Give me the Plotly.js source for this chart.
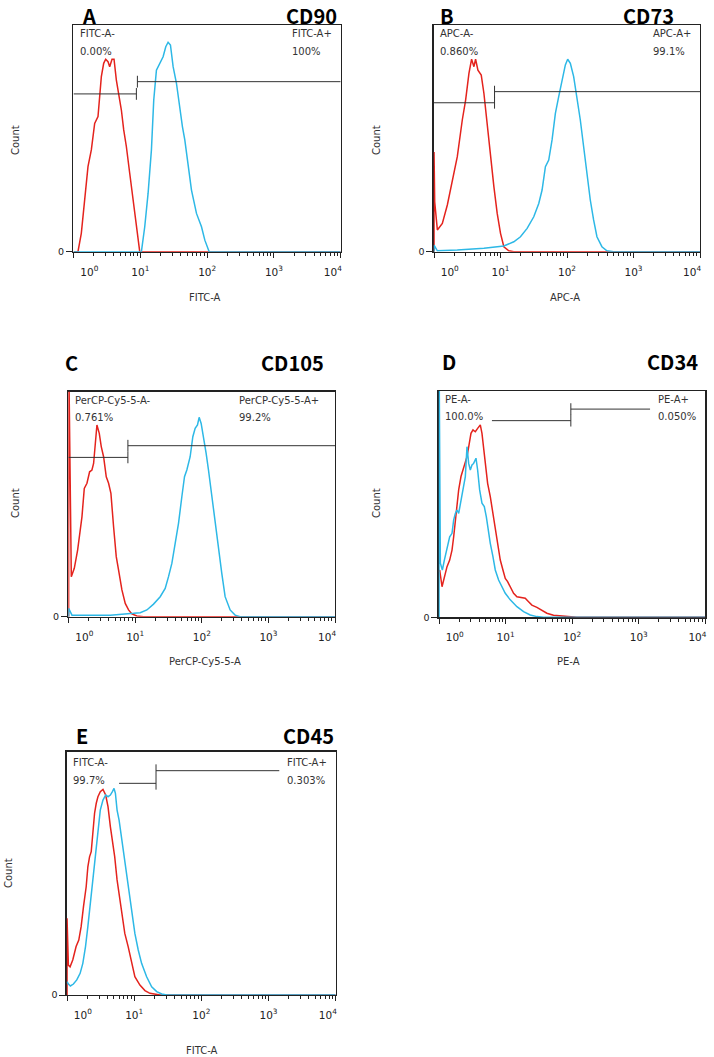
<!DOCTYPE html>
<html>
<head>
<meta charset="utf-8">
<script src="https://cdn.plot.ly/plotly-3.0.1.min.js"></script>
<style>
  html, body { margin: 0; padding: 0; background: #fff; }
  #chart { width: 714px; height: 1057px; }
</style>
</head>
<body>
<div id="chart"></div>
<script>
// histogram outlines: x = log10(fluorescence), y = relative count (0-100)
// red = isotype control, blue = stained sample

// A  CD90 / FITC-A
const aRedLog = [0, 0.065, 0.115, 0.165, 0.215, 0.265, 0.315, 0.365, 0.39, 0.415, 0.45, 0.48, 0.515, 0.54, 0.575, 0.605, 0.64, 0.675, 0.715, 0.75, 0.79, 0.84, 0.89, 0.94, 0.99, 4];
const aRedCount = [0, 0, 8.1, 22.8, 37.5, 44.9, 56.6, 59.6, 66.9, 77.2, 83.1, 84.9, 83.8, 81.6, 84.9, 84.9, 75.7, 69.9, 62.5, 53.7, 46.3, 34.6, 22.8, 11, 0, 0];
const aBlueLog = [0, 1.015, 1.065, 1.115, 1.165, 1.2, 1.24, 1.28, 1.34, 1.38, 1.415, 1.45, 1.49, 1.54, 1.59, 1.63, 1.665, 1.715, 1.765, 1.84, 1.915, 1.965, 2.03, 4];
const aBlueCount = [0, 0, 11, 25.7, 44.9, 66.9, 80.1, 82.4, 86, 90.4, 92.4, 91.2, 81.6, 74.3, 62.5, 55.1, 49.3, 37.5, 27.2, 16.9, 11, 5.1, 0, 0];
const aGateLog = [0, 0.94, 0.955, 4];
const aGateLevel = [69.6, 75];

// B  CD73 / APC-A
const bRedLog = [0, 0, 0.01, 0.05, 0.125, 0.2, 0.275, 0.35, 0.425, 0.475, 0.525, 0.565, 0.6, 0.625, 0.66, 0.71, 0.75, 0.8, 0.85, 0.9, 0.95, 1.0, 1.05, 1.125, 1.2, 4];
const bRedCount = [0, 44, 22, 9.6, 12.5, 20.6, 30.9, 41.9, 58.1, 66.9, 78.7, 84.9, 81.6, 84.9, 80.1, 77.9, 69.9, 55.1, 41.9, 28.7, 16.9, 8.1, 2.2, 0.4, 0, 0];
const bBlueLog = [0, 0, 0.05, 0.35, 0.75, 1.05, 1.2, 1.3, 1.4, 1.5, 1.575, 1.625, 1.675, 1.725, 1.775, 1.825, 1.875, 1.925, 1.975, 2.01, 2.05, 2.1, 2.15, 2.2, 2.25, 2.3, 2.35, 2.4, 2.45, 2.525, 2.6, 2.7, 4];
const bBlueCount = [0, 2.9, 0.4, 0.7, 1.5, 2.5, 4.4, 6.6, 10.3, 15.4, 21.3, 27.2, 37.5, 40.4, 49.3, 61, 68.4, 75.7, 82.4, 84.9, 83.1, 77.2, 68.4, 58.1, 46.3, 33.1, 22.8, 14, 6.6, 2.2, 0.4, 0, 0];
const bGateLog = [0, 0.91, 0.91, 4];
const bGateLevel = [65.7, 70.6];

// C  CD105 / PerCP-Cy5-5-A
const cRedLog = [0, 0, 0.04, 0.085, 0.135, 0.2, 0.235, 0.275, 0.315, 0.35, 0.375, 0.4, 0.425, 0.46, 0.49, 0.525, 0.565, 0.6, 0.635, 0.675, 0.715, 0.75, 0.8, 0.85, 0.9, 0.95, 1.025, 1.125, 4];
const cRedCount = [0, 120, 17.8, 21.5, 29.6, 44.4, 57, 59.3, 64.4, 65.2, 68.1, 78.5, 85.2, 81.5, 75.6, 71.1, 62.2, 59.3, 54.8, 40, 26.7, 20.7, 11.9, 5.9, 3, 1.2, 0.3, 0, 0];
const cBlueLog = [0, 0, 0.05, 0.625, 0.975, 1.075, 1.175, 1.275, 1.375, 1.45, 1.5, 1.55, 1.6, 1.65, 1.7, 1.74, 1.775, 1.825, 1.865, 1.9, 1.935, 1.96, 1.99, 2.025, 2.065, 2.1, 2.15, 2.2, 2.25, 2.3, 2.35, 2.425, 2.5, 2.575, 4];
const cBlueCount = [0, 3.7, 0.7, 0.7, 1.5, 1.8, 3, 5.6, 8.9, 12.6, 17.8, 23.7, 32.6, 41.5, 53.3, 62.2, 65.2, 71.1, 80, 83.7, 85.2, 88.6, 85.9, 80, 72.6, 65.2, 53.3, 41.5, 29.6, 19.3, 8.9, 3, 0.7, 0, 0];
const cGateLog = [0, 0.89, 0.89, 4];
const cGateLevel = [70.8, 76];

// D  CD34 / PE-A
const dRedLog = [0, 0.01, 0.045, 0.08, 0.12, 0.16, 0.195, 0.22, 0.245, 0.27, 0.295, 0.33, 0.36, 0.395, 0.42, 0.45, 0.48, 0.51, 0.545, 0.58, 0.62, 0.645, 0.67, 0.695, 0.73, 0.77, 0.81, 0.845, 0.88, 0.92, 0.96, 0.995, 1.03, 1.07, 1.12, 1.17, 1.245, 1.295, 1.345, 1.395, 1.47, 1.545, 1.62, 1.72, 1.87, 2.0, 2.07, 4];
const dRedCount = [20, 20.9, 13.5, 17.2, 22.4, 25.3, 29.7, 35.6, 43, 50.4, 56.3, 62.2, 65.1, 68, 71, 76.1, 81.3, 82.8, 82, 83.5, 85, 81.3, 73.9, 66.6, 59.2, 53.3, 46, 38.6, 31.2, 25.3, 20.9, 17.2, 15.8, 13.5, 10.6, 9.1, 8.8, 8.4, 6.9, 5.4, 4.4, 3.2, 1.8, 0.9, 0.6, 0.3, 0, 0];
const dBlueLog = [0, 0, 0.02, 0.05, 0.08, 0.12, 0.16, 0.195, 0.22, 0.245, 0.27, 0.295, 0.32, 0.36, 0.395, 0.42, 0.445, 0.47, 0.495, 0.52, 0.555, 0.58, 0.61, 0.645, 0.68, 0.71, 0.745, 0.77, 0.81, 0.845, 0.895, 0.945, 0.995, 1.07, 1.17, 1.27, 1.37, 1.47, 1.57, 4];
const dBlueCount = [0, 120, 23.9, 20.9, 25.3, 31.2, 35.6, 37.1, 43, 45.9, 47.4, 45.9, 50.4, 57.7, 62.2, 75.4, 68, 65.1, 67.3, 68, 70.3, 65.1, 56.3, 50.4, 48.9, 44.5, 37.1, 32.7, 26.8, 20.9, 16.5, 13.5, 10.6, 7.7, 4.7, 2.5, 1, 0.3, 0, 0];
const dGateLog = [0.795, 1.98, 1.98, 3.17];
const dGateLevel = [86.9, 92];

// E  CD45 / FITC-A
const eRedLog = [0, 0, 0.02, 0.045, 0.085, 0.135, 0.175, 0.21, 0.245, 0.285, 0.31, 0.335, 0.36, 0.385, 0.41, 0.435, 0.46, 0.495, 0.535, 0.575, 0.61, 0.645, 0.675, 0.71, 0.745, 0.785, 0.825, 0.86, 0.91, 0.96, 1.01, 1.085, 1.16, 1.235, 1.31, 1.385, 4];
const eRedCount = [0, 31.5, 12.3, 11.6, 14.4, 19.9, 22.6, 28.1, 36.3, 44.5, 52.7, 56.8, 58.9, 66.4, 74.7, 78.8, 81.5, 83.6, 84.5, 82.2, 77.4, 69.2, 63.7, 56.8, 47.3, 39, 30.8, 25.3, 19.9, 13, 7.5, 4.1, 1.8, 0.7, 0.3, 0, 0];
const eBlueLog = [0, 0.02, 0.05, 0.095, 0.145, 0.195, 0.235, 0.275, 0.31, 0.345, 0.385, 0.425, 0.46, 0.495, 0.535, 0.575, 0.61, 0.645, 0.675, 0.7, 0.72, 0.745, 0.775, 0.81, 0.845, 0.885, 0.925, 0.96, 1.01, 1.06, 1.11, 1.185, 1.26, 1.335, 1.41, 1.485, 4];
const eBlueCount = [5.5, 4.5, 3.7, 4.5, 6.2, 8.9, 13, 19.9, 28.1, 37.7, 47.3, 58.2, 67.8, 76, 80.1, 82.2, 81.5, 82.2, 83.6, 84.9, 82.9, 76, 71.9, 65.1, 58.2, 51.4, 43.2, 34.9, 25.3, 18.5, 13, 7.5, 3.4, 1.4, 0.4, 0, 0];
const eGateLog = [0.775, 1.325, 1.325, 3.16];
const eGateLevel = [87, 92.2];

const panelLetters = ['A', 'B', 'C', 'D', 'E'];
const markers = ['CD90', 'CD73', 'CD105', 'CD34', 'CD45'];
const channels = ['FITC-A', 'APC-A', 'PerCP-Cy5-5-A', 'PE-A', 'FITC-A'];
const negPercent = ['0.00%', '0.860%', '0.761%', '100.0%', '99.7%'];
const posPercent = ['100%', '99.1%', '99.2%', '0.050%', '0.303%'];
const decadeTicks = [1, 10, 100, 1000, 10000];
// en spaces push the end labels inward, as in the original export
const EN = '\u2002';
const decadeText = [EN.repeat(6) + '10<sup>0</sup>', '10<sup>1</sup>', '10<sup>2</sup>', '10<sup>3</sup>', '10<sup>4</sup>' + EN.repeat(3)];

const series = [
  [aRedLog, aRedCount, aBlueLog, aBlueCount, aGateLog, aGateLevel],
  [bRedLog, bRedCount, bBlueLog, bBlueCount, bGateLog, bGateLevel],
  [cRedLog, cRedCount, cBlueLog, cBlueCount, cGateLog, cGateLevel],
  [dRedLog, dRedCount, dBlueLog, dBlueCount, dGateLog, dGateLevel],
  [eRedLog, eRedCount, eBlueLog, eBlueCount, eGateLog, eGateLevel]
];

// page layout (pixels): plot box, title row top, axis-title spots, label spots
const W = 714, H = 1057;
const boxes = [
  [73.3, 25, 340.7, 251.7],
  [433.7, 25, 700, 251.7],
  [68.3, 391.7, 335, 616.7],
  [438.7, 391, 705.3, 617.3],
  [66.7, 751.7, 335.7, 995]
];
const titleTop = [0, 0, 347, 346, 720];
const letterX = [89, 447, 71.7, 448.7, 81.7];
const markerRight = [338, 675, 325, 698.7, 335];
const xTitlePos = [[205, 297], [565, 297], [205, 661], [568, 661], [202, 1050]];
const countPos = [[15, 140], [376, 140], [15, 503], [376, 503], [8, 873]];
const labelTop = [9, 9, 8.3, 8.3, 11];
const posLabelX = [290, 651.3, 236.7, 656.3, 285];

const RED = '#e4231d';
const BLUE = '#2db8e6';
const INK = '#222';
const small = { family: 'DejaVu Sans, Verdana, sans-serif', size: 10, color: '#333' };
const big = { family: 'Noto Sans CJK SC, Liberation Sans, Arial, sans-serif', size: 20, color: '#000', weight: 'bold' };

const px = x => x / W;
const py = y => 1 - y / H;
const pow10 = arr => arr.map(v => Math.pow(10, v));

const minorTicks = [];
for (let k = 0; k < 4; k++) {
  for (let m = 2; m <= 9; m++) minorTicks.push(m * Math.pow(10, k));
}

const traces = [];
const layout = {
  width: W, height: H,
  margin: { l: 0, r: 0, t: 0, b: 0 },
  paper_bgcolor: '#fff', plot_bgcolor: '#fff',
  showlegend: false,
  annotations: []
};

series.forEach((s, i) => {
  const [redLog, redCount, blueLog, blueCount, gateLog, gateLevel] = s;
  const n = i === 0 ? '' : String(i + 1);
  const xa = 'x' + n, ya = 'y' + n;
  const box = boxes[i];

  traces.push({
    x: pow10(redLog), y: redCount, xaxis: xa, yaxis: ya,
    mode: 'lines', line: { color: RED, width: 1.5 }, hoverinfo: 'skip'
  });
  traces.push({
    x: pow10(blueLog), y: blueCount, xaxis: xa, yaxis: ya,
    mode: 'lines', line: { color: BLUE, width: 1.5 }, hoverinfo: 'skip'
  });

  // gate markers: negative gate ends with a bar, positive gate starts with one
  const g = pow10(gateLog);
  const bar = 2.6;
  traces.push({
    x: [g[0], g[1], null, g[1], g[1], null, g[2], g[3], null, g[2], g[2]],
    y: [gateLevel[0], gateLevel[0], null, gateLevel[0] - bar, gateLevel[0] + bar, null,
        gateLevel[1], gateLevel[1], null, gateLevel[1] - bar, gateLevel[1] + bar],
    xaxis: xa, yaxis: ya, mode: 'lines', line: { color: '#333', width: 1 }, hoverinfo: 'skip'
  });

  layout['xaxis' + n] = {
    type: 'log', range: [-0.005, 4],
    domain: [px(box[0]), px(box[2])], anchor: ya,
    showline: true, mirror: true, linecolor: INK, linewidth: 1.3,
    ticks: 'outside', ticklen: 5, tickwidth: 1, tickcolor: INK,
    tickmode: 'array', tickvals: decadeTicks, ticktext: decadeText,
    tickfont: { family: 'DejaVu Sans, sans-serif', size: 10.5, color: INK },
    ticklabelstandoff: 5, ticklabeloverflow: 'allow',
    minor: { tickmode: 'array', tickvals: minorTicks, ticks: 'outside', ticklen: 3, tickwidth: 1, tickcolor: INK },
    showgrid: false, zeroline: false, layer: 'below traces', fixedrange: true
  };
  layout['yaxis' + n] = {
    range: [0, 100],
    domain: [py(box[3]), py(box[1])], anchor: xa,
    showline: true, mirror: true, linecolor: INK, linewidth: 1.3,
    ticks: 'outside', ticklen: 6, tickwidth: 1, tickcolor: INK,
    tickmode: 'array', tickvals: [0], ticktext: ['0'],
    tickfont: { family: 'DejaVu Sans, sans-serif', size: 9.5, color: INK },
    showgrid: false, zeroline: false, layer: 'below traces', fixedrange: true
  };

  const ann = layout.annotations;
  ann.push({ text: panelLetters[i], x: px(letterX[i]), y: py(titleTop[i]), xref: 'paper', yref: 'paper',
    xanchor: 'center', yanchor: 'top', borderpad: 0, showarrow: false, font: big });
  ann.push({ text: markers[i], x: px(markerRight[i]), y: py(titleTop[i]), xref: 'paper', yref: 'paper',
    xanchor: 'right', yanchor: 'top', borderpad: 0, showarrow: false, font: big });
  ann.push({ text: channels[i], x: px(xTitlePos[i][0]), y: py(xTitlePos[i][1]), xref: 'paper', yref: 'paper',
    xanchor: 'center', yanchor: 'middle', showarrow: false, font: small });
  ann.push({ text: 'Count', x: px(countPos[i][0]), y: py(countPos[i][1]), xref: 'paper', yref: 'paper',
    xanchor: 'center', yanchor: 'middle', textangle: -90, showarrow: false, font: small });

  const leftX = px(box[0] + 4.5);
  const y1 = py(box[1] + labelTop[i]);
  const y2 = py(box[1] + labelTop[i] + 17.5);
  const bg = i >= 3 ? '#fff' : 'rgba(0,0,0,0)';
  ann.push({ text: channels[i] + '-', x: leftX, y: y1, xref: 'paper', yref: 'paper',
    xanchor: 'left', yanchor: 'middle', showarrow: false, font: small });
  ann.push({ text: negPercent[i], x: leftX, y: y2, xref: 'paper', yref: 'paper',
    xanchor: 'left', yanchor: 'middle', showarrow: false, font: small, bgcolor: bg });
  ann.push({ text: channels[i] + '+', x: px(posLabelX[i]), y: y1, xref: 'paper', yref: 'paper',
    xanchor: 'left', yanchor: 'middle', showarrow: false, font: small, bgcolor: bg });
  ann.push({ text: posPercent[i], x: px(posLabelX[i]), y: y2, xref: 'paper', yref: 'paper',
    xanchor: 'left', yanchor: 'middle', showarrow: false, font: small });
});

Plotly.newPlot('chart', traces, layout, { staticPlot: true, displayModeBar: false });
</script>
</body>
</html>
